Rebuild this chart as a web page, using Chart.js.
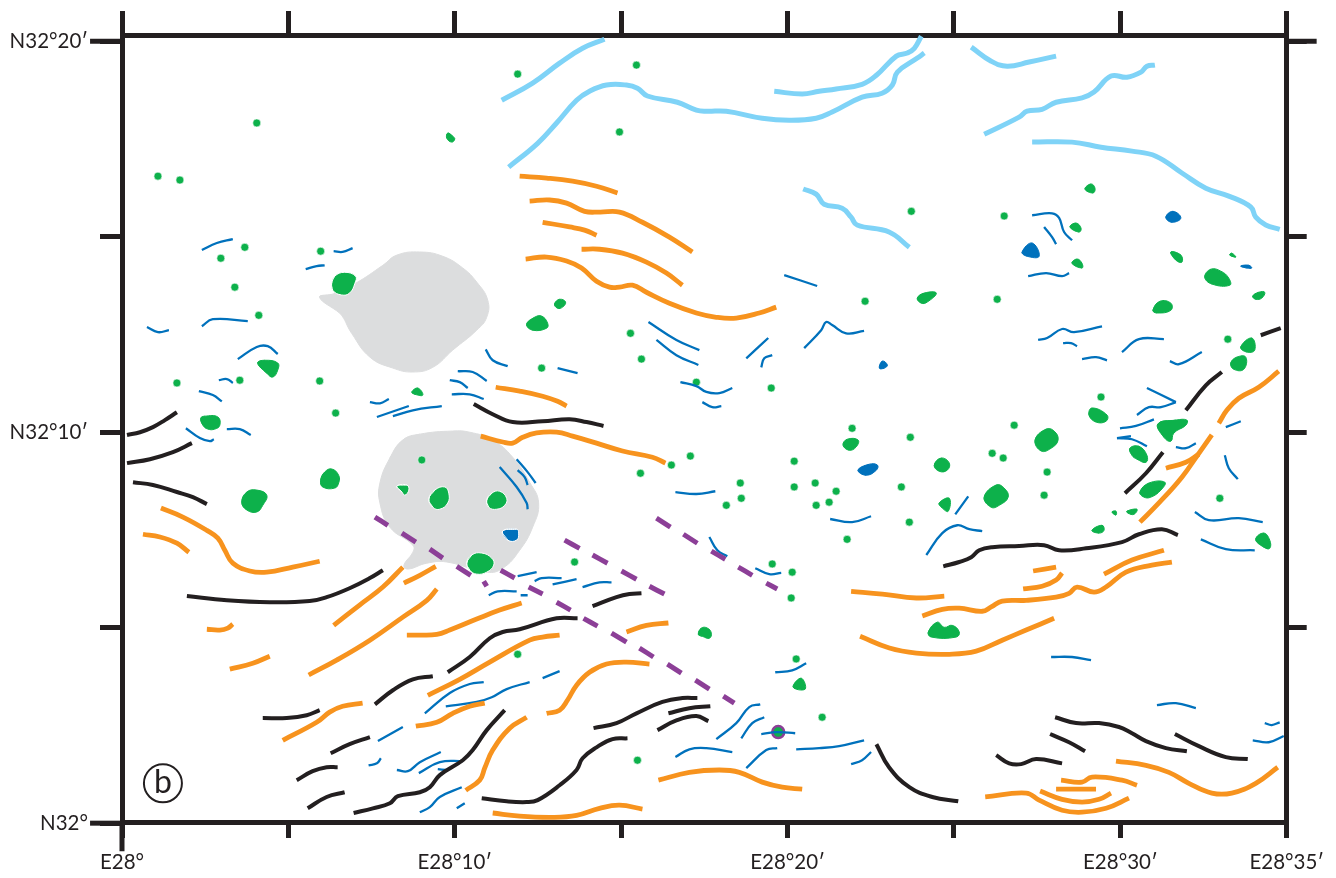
<!DOCTYPE html>
<html>
<head>
<meta charset="utf-8">
<title>Map b</title>
<script src="https://cdn.jsdelivr.net/npm/chart.js@4/dist/chart.umd.min.js"></script>
<style>
  body { margin: 0; background: #fff; }
  canvas { display: block; }
</style>
</head>
<body>
<canvas id="mapChart" width="1336" height="878"></canvas>
<script>
// All positions are arc minutes east of E28° (x) and north of N32° (y)

// Axis ticks
const xTickValues = [0, 5, 10, 15, 20, 25, 30, 35];
const yTickValues = [0, 5, 10, 15, 20];
const yRightTickValues = [5, 10, 15, 20];
const xTickLabels = {0: 'E28°', 10: 'E28°10′', 20: 'E28°20′', 30: 'E28°30′', 35: 'E28°35′'};
const yTickLabels = {0: 'N32°', 10: 'N32°10′', 20: 'N32°20′'};

const lightBlueLines = [
  [[11.41,18.49],[12.34,18.93],[13.15,19.44],[13.84,19.82],[14.50,20.05]],
  [[11.62,16.78],[12.49,17.39],[13.06,17.91],[13.66,18.49],[14.05,18.72],[14.56,18.88],[15.16,18.88],[15.49,18.80],[15.79,18.60],[16.69,18.44],[17.26,18.24],[17.56,18.21],[18.16,18.21],[19.24,18.03],[20.05,17.98],[20.86,18.03],[21.34,18.19],[22.24,18.57],[22.84,18.67],[23.15,18.88],[23.30,19.21],[23.90,19.57],[24.11,19.70]],
  [[19.60,18.72],[20.44,18.65],[20.95,18.72],[21.46,18.78],[22.24,18.90],[22.67,19.13],[23.27,19.62],[23.60,19.70],[23.81,19.82],[24.02,20.13]],
  [[25.52,19.85],[26.12,19.49],[26.60,19.36],[27.26,19.47],[28.07,19.62]],
  [[25.91,17.62],[26.96,18.06],[27.20,18.21],[27.65,18.26],[28.07,18.44],[28.85,18.55],[29.21,18.70],[29.72,19.11],[30.20,19.08],[30.62,19.21],[30.80,19.36],[31.04,19.39]],
  [[27.35,17.42],[28.55,17.42],[29.42,17.29],[30.35,17.19],[31.07,17.06],[31.85,16.63],[32.57,16.24],[33.26,16.04],[33.92,15.76],[34.07,15.50],[34.37,15.30],[34.79,15.19]],
  [[20.47,16.22],[20.86,16.09],[21.10,15.83],[21.64,15.73],[21.91,15.50],[22.09,15.30],[23.05,15.12],[23.66,14.73]]
];

const orangeLines = [
  [[11.95,16.55],[12.76,16.50],[13.54,16.42],[14.26,16.29],[14.89,16.12]],
  [[12.25,15.91],[12.85,15.94],[13.36,15.86],[13.90,15.65],[14.35,15.63],[14.95,15.63],[15.64,15.37],[16.45,14.99],[17.14,14.61]],
  [[12.64,15.37],[13.45,15.25],[13.90,15.17],[14.26,15.04]],
  [[13.81,14.68],[14.35,14.68],[15.04,14.58],[15.76,14.35],[16.36,14.07],[16.84,13.76]],
  [[12.13,14.43],[12.76,14.48],[13.36,14.38],[13.81,14.20],[14.26,13.86],[14.65,13.71],[14.95,13.71],[15.34,13.76],[15.76,13.58],[16.45,13.30],[17.26,13.05],[17.86,12.94],[18.46,12.92],[19.15,13.05],[19.66,13.20]],
  [[11.23,11.15],[11.95,11.05],[12.64,10.92],[13.09,10.79],[13.36,10.67]],
  [[10.78,9.90],[11.44,9.75],[11.74,9.72],[12.04,9.87],[12.46,9.98],[13.06,10.00],[13.54,9.90],[14.26,9.72],[15.04,9.52],[15.94,9.36],[16.33,9.21]],
  [[1.17,8.06],[1.83,7.83],[2.55,7.49],[2.88,7.29],[3.09,6.98],[3.33,6.65],[3.84,6.45],[4.35,6.42],[5.13,6.55],[5.94,6.70]],
  [[0.63,7.39],[1.14,7.32],[1.65,7.16],[2.01,6.93]],
  [[6.36,5.06],[7.14,5.58],[7.84,6.04],[8.44,6.55]],
  [[8.47,6.14],[8.95,6.34],[9.43,6.57]],
  [[5.61,3.79],[6.45,4.17],[7.45,4.68],[8.44,5.27],[9.16,5.70],[9.46,5.99]],
  [[2.55,4.96],[2.94,4.94],[3.18,4.99],[3.33,5.09]],
  [[3.24,3.94],[3.93,4.09],[4.44,4.27]],
  [[4.83,2.12],[5.85,2.58],[6.24,2.84],[6.63,2.99],[7.23,3.07]],
  [[8.56,4.81],[8.95,4.81],[9.46,4.83],[9.85,4.94],[10.66,5.22],[11.35,5.45],[12.01,5.63]],
  [[9.19,3.27],[10.15,3.68],[11.05,4.12],[12.25,4.68],[12.64,4.76],[13.15,4.81]],
  [[8.83,2.48],[9.46,2.58],[9.94,2.81],[10.45,2.99],[10.90,3.07]],
  [[10.33,0.84],[10.75,1.10],[10.90,1.41],[11.14,1.87],[11.65,2.43],[12.16,2.71]],
  [[12.76,2.81],[13.15,2.89],[13.39,3.15],[13.66,3.53],[14.05,3.86],[14.56,4.07],[15.16,4.12],[15.85,4.07]],
  [[15.16,4.89],[15.76,5.06],[16.42,5.12]],
  [[11.14,0.26],[11.95,0.18],[12.94,0.15],[13.66,0.20],[14.35,0.38],[14.95,0.46],[15.64,0.36]],
  [[16.12,1.10],[17.05,1.30],[17.95,1.36],[18.55,1.30],[19.24,1.05],[19.84,0.92],[20.44,0.87]],
  [[21.91,5.93],[22.85,5.86],[23.87,5.76],[24.71,5.81]],
  [[24.05,5.30],[24.65,5.47],[25.16,5.50],[25.85,5.42],[26.12,5.53],[26.45,5.68],[27.17,5.70],[28.07,5.78],[28.46,5.88],[28.70,6.04],[29.21,5.91],[29.57,6.04],[30.17,6.42],[30.95,6.60],[31.55,6.68]],
  [[29.51,6.37],[30.35,6.73],[31.31,6.98]],
  [[27.38,6.45],[28.07,6.55]],
  [[27.08,5.99],[27.65,6.06],[28.07,6.22],[28.25,6.40]],
  [[22.18,4.78],[23.06,4.48],[23.87,4.35],[24.86,4.32],[25.67,4.40],[26.45,4.68],[27.17,4.94],[28.01,5.24]],
  [[32.96,10.23],[33.20,10.56],[33.56,10.87],[34.16,11.15],[34.76,11.56]],
  [[30.59,7.70],[31.16,8.19],[31.85,8.85],[32.36,9.46],[32.75,9.93]],
  [[31.37,9.08],[31.97,9.23],[32.36,9.44]],
  [[25.94,0.67],[27.17,0.77],[27.56,0.59],[28.25,0.33],[28.85,0.28],[29.57,0.38],[30.26,0.64]],
  [[27.59,0.82],[28.25,0.61],[28.85,0.54],[29.36,0.61],[29.72,0.77]],
  [[28.07,0.87],[29.27,0.87]],
  [[28.22,1.10],[28.85,1.05],[29.15,1.18],[30.05,1.10],[30.50,0.97]],
  [[29.87,1.59],[30.77,1.48],[31.46,1.30],[32.06,1.02],[32.75,0.77],[33.35,0.77],[34.07,1.02],[34.73,1.43]]
];

const blackLines = [
  [[0.15,9.93],[0.54,10.00],[0.93,10.13],[1.29,10.31],[1.65,10.51]],
  [[0.15,9.21],[0.84,9.31],[1.53,9.49],[2.10,9.72]],
  [[0.33,8.72],[0.93,8.65],[1.65,8.47],[2.13,8.34],[2.55,8.16]],
  [[10.57,10.72],[11.14,10.46],[11.74,10.26],[12.64,10.28],[13.45,10.33],[13.96,10.26],[14.47,10.16]],
  [[1.95,5.81],[3.15,5.70],[4.44,5.65],[5.64,5.68],[6.15,5.78],[6.84,6.01],[7.45,6.27],[7.84,6.47]],
  [[4.23,2.69],[4.95,2.69],[5.55,2.76],[5.94,2.89]],
  [[7.60,3.04],[8.14,3.40],[8.74,3.68],[9.34,3.76]],
  [[9.79,3.86],[10.45,4.25],[11.05,4.73],[11.44,4.89],[11.95,4.96],[13.06,5.24],[13.69,5.24]],
  [[14.14,5.55],[14.86,5.78],[15.25,5.86],[15.61,5.88]],
  [[6.27,1.79],[6.84,2.02],[7.45,2.20]],
  [[5.25,1.10],[5.73,1.33],[6.15,1.43],[6.48,1.43]],
  [[5.58,0.38],[6.15,0.67],[6.69,0.79]],
  [[6.96,0.26],[7.54,0.38],[8.05,0.51],[8.29,0.69],[8.95,0.79],[9.25,0.92],[9.55,1.23],[10.24,1.61],[10.54,1.87],[10.96,2.38],[11.50,2.89]],
  [[10.81,0.64],[11.56,0.56],[12.16,0.54],[12.49,0.59],[13.15,0.97],[13.66,1.36],[13.84,1.66],[14.26,1.94],[14.74,2.15],[15.19,2.17]],
  [[14.17,2.43],[14.86,2.56],[15.46,2.81],[16.24,3.10],[16.84,3.20],[17.29,3.20]],
  [[16.42,2.81],[17.05,2.94],[17.68,2.99]],
  [[16.09,2.38],[16.66,2.63],[17.26,2.74],[17.62,2.61]],
  [[22.67,2.02],[23.05,1.43],[23.66,0.92],[24.35,0.67],[25.13,0.56]],
  [[26.27,1.74],[26.66,1.53],[27.02,1.51],[27.47,1.64],[28.25,1.53]],
  [[27.89,2.28],[28.46,2.07],[28.94,1.84]],
  [[28.04,2.71],[28.67,2.56],[29.36,2.56],[29.96,2.46],[30.35,2.30],[30.77,2.10],[31.37,1.92],[32.00,1.84]],
  [[31.64,2.28],[32.36,1.97],[33.17,1.69],[33.83,1.64]],
  [[24.68,6.57],[25.16,6.68],[25.52,6.80],[25.76,6.98],[26.15,7.06],[26.96,7.09],[27.71,7.11],[28.16,6.98],[28.97,7.03],[30.05,7.19],[30.56,7.39],[31.25,7.52],[31.73,7.37]],
  [[30.14,8.44],[30.77,8.95],[31.28,9.49]],
  [[31.97,10.56],[32.57,11.20],[33.05,11.54]],
  [[34.22,12.48],[34.82,12.66]]
];

const blueLines = [
  [[2.40,14.66],[2.85,14.84],[3.33,14.94]],
  [[6.36,14.63],[6.63,14.61],[6.93,14.71]],
  [[5.52,14.17],[5.85,14.25],[6.09,14.27]],
  [[0.75,12.69],[1.08,12.56],[1.41,12.61]],
  [[2.40,12.71],[2.73,12.89],[3.78,12.84]],
  [[3.48,11.87],[4.05,12.18],[4.38,12.20],[4.68,12.00]],
  [[2.91,11.33],[3.15,11.36],[3.33,11.26]],
  [[2.31,11.05],[2.73,10.95],[3.00,10.79]],
  [[1.92,10.10],[2.34,9.85],[2.64,9.77],[2.76,9.82]],
  [[3.15,10.08],[3.54,10.08],[3.87,9.93]],
  [[7.45,10.77],[7.75,10.74],[8.02,10.85]],
  [[7.66,10.39],[8.62,10.67]],
  [[8.14,10.41],[8.74,10.56],[9.61,10.67]],
  [[10.93,12.12],[11.14,11.84],[11.59,11.69]],
  [[10.09,11.56],[10.54,11.54],[10.96,11.31]],
  [[9.85,11.33],[10.15,11.28],[10.39,11.13]],
  [[9.91,10.97],[10.45,10.97],[10.87,10.85]],
  [[13.09,11.64],[13.69,11.51]],
  [[11.86,9.31],[12.19,8.98],[12.43,8.70]],
  [[11.89,9.03],[12.10,8.85],[12.19,8.65]],
  [[11.35,9.11],[11.86,8.60],[12.16,8.19],[12.19,8.03]],
  [[11.89,6.32],[12.46,6.42]],
  [[12.40,6.19],[12.61,6.27],[13.21,6.27]],
  [[12.94,6.11],[13.66,6.24]],
  [[13.84,6.04],[14.35,6.16],[14.71,6.16]],
  [[11.02,5.83],[11.29,5.93],[11.86,5.93]],
  [[11.98,5.83],[12.19,5.83]],
  [[15.82,12.82],[16.66,12.36],[17.35,12.10]],
  [[16.06,12.36],[16.66,11.97],[17.32,11.72]],
  [[18.76,11.89],[19.42,12.41]],
  [[19.21,11.66],[19.30,11.89],[19.54,11.97]],
  [[20.50,12.15],[21.01,12.61],[21.16,12.82],[21.34,12.74],[21.76,12.53],[22.30,12.59]],
  [[16.78,11.28],[17.26,11.18],[17.56,11.03],[17.95,11.00],[18.34,11.13]],
  [[17.44,10.77],[17.74,10.64],[18.01,10.67]],
  [[16.63,8.47],[17.26,8.42],[17.83,8.49]],
  [[21.28,7.78],[21.94,7.70],[22.51,7.85]],
  [[17.65,7.32],[17.89,6.98],[18.19,6.83]],
  [[19.03,6.52],[19.45,6.37],[19.81,6.40]],
  [[19.90,14.02],[20.89,13.74]],
  [[27.35,15.55],[27.95,15.60],[28.16,15.48],[28.31,15.12],[28.55,14.91]],
  [[27.71,15.25],[27.95,14.99],[28.07,14.81]],
  [[27.23,13.99],[27.77,14.07],[28.25,13.99],[28.46,14.07]],
  [[27.53,12.36],[27.80,12.41],[28.25,12.64],[28.61,12.56],[29.45,12.71]],
  [[28.28,12.28],[28.52,12.28],[28.70,12.20]],
  [[28.85,11.87],[29.27,11.92],[29.60,11.84]],
  [[30.05,12.05],[30.56,12.38],[31.31,12.38]],
  [[31.49,11.82],[31.76,11.74],[32.45,12.05]],
  [[30.80,11.13],[31.67,10.77]],
  [[31.67,10.77],[31.22,10.64],[30.86,10.64],[30.50,10.44]],
  [[29.99,10.10],[30.47,10.16],[31.01,10.33]],
  [[30.32,9.90],[29.90,9.85]],
  [[29.90,9.85],[30.35,9.82],[30.80,9.64]],
  [[31.67,9.62],[31.97,9.59],[32.27,9.72]],
  [[33.17,10.13],[33.62,10.28]],
  [[33.14,9.41],[33.26,9.08],[33.53,8.80]],
  [[25.04,7.90],[25.43,8.36]],
  [[24.17,6.86],[24.65,7.42],[25.10,7.62],[25.46,7.52],[25.85,7.47]],
  [[32.24,7.96],[32.66,7.75],[33.56,7.80],[34.28,7.70]],
  [[32.42,7.26],[33.17,7.01],[34.04,6.98]],
  [[7.69,2.10],[8.44,2.46]],
  [[7.41,1.48],[7.66,1.53],[7.78,1.66]],
  [[8.26,1.36],[8.59,1.33],[8.95,1.56],[9.58,1.82]],
  [[8.92,1.28],[9.55,1.56],[10.24,1.59]],
  [[9.49,1.38],[9.73,1.36]],
  [[8.95,0.28],[9.25,0.41],[9.55,0.67],[10.21,0.92]],
  [[10.06,0.38],[10.30,0.51]],
  [[9.10,2.81],[9.85,3.33],[10.45,3.56],[10.87,3.61]],
  [[9.73,2.99],[10.66,3.10],[11.11,3.22],[11.56,3.43],[12.25,3.61]],
  [[12.64,3.71],[13.15,3.89]],
  [[16.63,1.69],[17.05,1.89],[17.56,1.92],[18.34,1.82]],
  [[17.86,2.15],[18.46,2.56],[18.85,2.97],[19.18,3.04]],
  [[18.61,2.17],[18.94,2.56],[19.30,2.71]],
  [[19.21,2.28],[19.69,2.33],[20.23,2.30]],
  [[18.76,1.41],[19.36,1.87],[19.69,1.92]],
  [[20.26,1.89],[20.95,1.92],[21.55,1.97],[22.30,2.12]],
  [[21.91,1.51],[22.24,1.61],[22.51,1.82]],
  [[19.63,3.86],[20.14,3.91],[20.56,4.09]],
  [[27.92,4.25],[28.55,4.25],[29.12,4.17]],
  [[31.10,3.02],[31.67,3.07],[32.27,2.94]],
  [[34.34,2.56],[34.55,2.51],[34.79,2.58]],
  [[33.98,2.12],[34.46,2.07],[34.91,2.23]]
];

const purpleDashes = [
  [[7.60,7.83],[7.99,7.62]], [[8.41,7.42],[8.83,7.19]], [[9.25,7.01],[9.64,6.78]], [[10.06,6.57],[10.48,6.34]], [[10.87,6.19],[10.96,6.06]],
  [[11.38,6.47],[11.80,6.27]], [[12.22,6.04],[12.64,5.86]], [[13.06,5.65],[13.48,5.45]], [[13.87,5.24],[14.29,5.04]], [[14.71,4.86],[15.16,4.63]],
  [[15.55,4.48],[15.97,4.25]], [[16.39,4.07],[16.81,3.84]], [[17.23,3.66],[17.65,3.43]], [[18.07,3.25],[18.40,3.07]],
  [[13.30,7.24],[13.75,7.03]], [[14.14,6.86],[14.59,6.65]], [[15.01,6.45],[15.46,6.24]], [[15.85,6.06],[16.30,5.86]],
  [[16.06,7.80],[16.48,7.57]], [[16.87,7.39],[17.29,7.16]], [[17.71,6.96],[18.13,6.75]], [[18.52,6.55],[18.94,6.34]], [[19.36,6.14],[19.69,5.99]]
];

const greyAreas = [
  [[5.94,13.45],[6.33,13.53],[7.02,13.81],[7.84,14.27],[8.26,14.53],[8.95,14.61],[9.64,14.50],[10.24,14.20],[10.66,13.84],[10.99,13.38],[10.96,12.94],[10.66,12.61],[9.94,12.10],[9.34,11.66],[8.74,11.54],[8.14,11.64],[7.45,11.92],[6.90,12.53],[6.54,13.05]],
  [[8.44,9.80],[8.95,9.95],[9.94,10.03],[10.45,10.00],[11.14,9.80],[11.74,9.36],[12.25,8.72],[12.52,8.19],[12.34,7.57],[11.95,6.98],[11.44,6.52],[10.96,6.42],[9.76,6.68],[9.16,6.65],[8.59,6.50],[8.47,6.60],[8.74,6.93],[8.74,7.11],[8.05,7.57],[7.75,8.19],[7.75,8.70],[8.05,9.34]]
];

// Green patches sitting on the grey areas get a white rim
const greenIslandBlobs = [
  [[6.30,13.81],[6.39,13.99],[6.69,14.09],[7.02,13.99],[7.00,13.81],[6.84,13.56],[6.60,13.51],[6.33,13.63]],
  [[8.26,8.62],[8.56,8.65],[8.62,8.52],[8.50,8.39],[8.41,8.47]],
  [[9.22,8.29],[9.40,8.52],[9.70,8.60],[9.82,8.44],[9.79,8.19],[9.55,8.03],[9.34,8.08]],
  [[10.96,8.26],[11.11,8.44],[11.35,8.49],[11.56,8.31],[11.50,8.13],[11.26,8.03],[11.02,8.08]],
  [[10.36,6.65],[10.51,6.86],[10.81,6.91],[11.11,6.78],[11.17,6.60],[10.96,6.42],[10.66,6.37],[10.45,6.47]]
];

const greenBlobs = [
  [[9.79,17.65],[9.76,17.52],[9.91,17.42],[10.00,17.50],[9.94,17.57]],
  [[12.16,12.76],[12.40,12.94],[12.61,12.97],[12.79,12.79],[12.76,12.66],[12.34,12.61]],
  [[13.00,13.28],[13.15,13.40],[13.33,13.33],[13.24,13.20],[13.09,13.17]],
  [[4.08,11.77],[4.29,11.84],[4.68,11.77],[4.68,11.59],[4.53,11.41],[4.35,11.51]],
  [[2.37,10.36],[2.49,10.41],[2.88,10.39],[2.94,10.18],[2.79,10.08],[2.58,10.08],[2.43,10.18]],
  [[3.60,8.21],[3.75,8.47],[4.05,8.52],[4.35,8.39],[4.23,8.13],[4.05,7.96],[3.75,8.01]],
  [[5.97,8.77],[6.09,8.98],[6.30,9.06],[6.51,8.90],[6.51,8.70],[6.39,8.57],[6.03,8.60]],
  [[8.71,11.03],[8.89,11.13],[9.04,10.95],[8.80,10.97]],
  [[17.32,4.83],[17.41,4.99],[17.59,4.99],[17.71,4.86],[17.65,4.73],[17.44,4.78]],
  [[20.17,3.48],[20.41,3.71],[20.53,3.43]],
  [[23.90,13.43],[24.11,13.56],[24.47,13.56],[24.20,13.33],[24.02,13.30]],
  [[21.67,9.67],[21.79,9.82],[22.12,9.80],[22.06,9.62],[21.85,9.54]],
  [[24.41,9.16],[24.62,9.34],[24.86,9.21],[24.80,9.03],[24.56,9.00]],
  [[24.56,8.19],[24.86,8.31],[24.83,7.98],[24.65,8.06]],
  [[25.91,8.34],[26.27,8.65],[26.51,8.57],[26.63,8.34],[26.36,8.13],[26.12,8.08]],
  [[27.44,9.80],[27.77,10.08],[28.01,10.03],[28.13,9.80],[27.92,9.59],[27.62,9.52]],
  [[29.06,10.44],[29.15,10.62],[29.60,10.44],[29.57,10.28],[29.27,10.26]],
  [[24.23,4.89],[24.50,5.14],[24.71,5.01],[24.95,5.06],[25.16,4.89],[25.07,4.76],[24.32,4.76]],
  [[28.94,16.22],[29.12,16.35],[29.24,16.24],[29.18,16.12]],
  [[28.49,15.25],[28.67,15.35],[28.82,15.22],[28.76,15.12]],
  [[28.55,14.32],[28.70,14.43],[28.85,14.32],[28.85,14.20]],
  [[31.52,14.61],[31.82,14.53],[31.85,14.35],[31.67,14.40]],
  [[33.29,14.53],[33.35,14.58],[33.47,14.48]],
  [[32.54,13.97],[32.72,14.17],[33.02,14.12],[33.26,13.94],[33.29,13.76],[32.75,13.79]],
  [[33.98,13.48],[34.16,13.58],[34.34,13.58],[34.25,13.43],[34.07,13.40]],
  [[30.98,13.12],[31.19,13.35],[31.52,13.30],[31.52,13.12],[31.10,13.05]],
  [[33.62,12.18],[33.95,12.41],[34.04,12.10],[33.80,12.05]],
  [[33.32,11.77],[33.50,11.92],[33.77,11.92],[33.71,11.61],[33.41,11.61]],
  [[31.13,10.21],[31.67,10.31],[32.00,10.31],[31.97,10.18],[31.61,9.98],[31.52,9.77],[31.31,9.87]],
  [[30.29,9.59],[30.56,9.64],[30.80,9.41],[30.77,9.23],[30.50,9.31],[30.35,9.41]],
  [[30.59,8.47],[30.86,8.70],[31.34,8.72],[31.22,8.52],[30.92,8.34],[30.71,8.34]],
  [[30.20,7.98],[30.50,8.03],[30.41,7.90],[30.23,7.93]],
  [[29.75,7.96],[29.87,7.98],[29.87,7.88]],
  [[29.15,7.49],[29.45,7.62],[29.51,7.49],[29.36,7.42]],
  [[34.07,7.26],[34.31,7.42],[34.49,7.24],[34.49,7.03],[34.31,7.06]]
];

const blueIslandBlobs = [
  [[11.44,7.47],[11.86,7.52],[11.92,7.42],[11.86,7.24],[11.59,7.24]]
];

const blueBlobs = [
  [[22.12,9.03],[22.45,9.18],[22.70,9.16],[22.67,9.03],[22.36,8.90]],
  [[22.76,11.64],[22.85,11.82],[23.00,11.72],[22.91,11.64]],
  [[31.37,15.50],[31.58,15.65],[31.82,15.48],[31.55,15.37]],
  [[27.05,14.61],[27.35,14.84],[27.56,14.50],[27.20,14.50]],
  [[33.62,14.25],[33.86,14.27],[33.95,14.20],[33.80,14.20]]
];

const greenDots = [
  [4.05,17.91],[1.08,16.55],[1.74,16.45],[3.69,14.73],[2.97,14.45],[5.97,14.63],[3.39,13.71],
  [11.89,19.16],[15.46,19.39],[14.95,17.68],[23.72,15.65],[22.33,13.35],[26.51,15.53],[26.30,13.40],
  [4.11,12.99],[1.65,11.26],[3.54,11.33],[5.94,11.31],[6.42,10.49],
  [12.61,11.64],[15.28,12.53],[15.61,11.87],[9.01,9.29],[13.60,6.68],[15.58,8.95],[16.51,9.16],
  [17.26,11.28],[19.51,11.13],[21.94,10.10],[23.69,9.87],[17.08,9.39],[20.20,9.26],[18.58,8.70],[18.61,8.31],[18.16,8.13],
  [20.20,8.60],[20.83,8.70],[21.46,8.49],[21.25,8.21],[20.86,8.13],[23.42,8.60],[23.66,7.70],[21.79,7.26],[19.54,6.63],[20.14,6.42],[20.11,5.76],
  [33.23,12.38],[29.42,10.90],[26.81,10.18],[26.15,9.46],[26.48,9.34],[27.80,8.98],[27.71,8.39],[32.99,8.31],
  [11.89,4.32],[15.49,1.61],[20.26,4.20],[21.04,2.71]
];

const sampleSite = [[19.72, 2.33]];
const panelBadge = [[1.23, 1.02]];
const panelLetter = 'b';

// Axis stubs that reach further out than the others
const longTicks = [
  [[0, 20], [-0.96, 20]],
  [[0, 0], [-0.96, 0]],
  [[35, 20], [35.9, 20]],
  [[0, 0.03], [0, -0.72]]
];

const INK = '#231f20';
const GREEN = '#0db14b';
const BLUE = '#0071bc';
const PURPLE = '#8c3f97';
const datasets = [];

function toPoints(path){
  return path.map(p => ({x: p[0], y: p[1]}));
}

function addLines(paths, color, width){
  paths.forEach(path => {
    datasets.push({
      data: toPoints(path),
      showLine: true,
      pointRadius: 0,
      borderColor: color,
      borderWidth: width,
      borderCapStyle: 'butt',
      borderJoinStyle: 'round',
      tension: 0.42
    });
  });
}

// Walk past the start on both ends so the spline has no corner where the outline closes
function addAreas(paths, color, edge){
  paths.forEach(path => {
    const closed = [path[path.length - 1]].concat(path, [path[0], path[1]]);
    datasets.push({
      data: toPoints(closed),
      showLine: true,
      pointRadius: 0,
      borderColor: edge,
      borderWidth: 1,
      backgroundColor: color,
      fill: 'shape',
      tension: 0.45
    });
  });
}

function addPoints(points, color, edge, radius, edgeWidth){
  datasets.push({
    data: toPoints(points),
    showLine: false,
    pointRadius: radius,
    pointBackgroundColor: color,
    pointBorderColor: edge,
    pointBorderWidth: edgeWidth
  });
}

// Back to front
addAreas(greyAreas, '#dcddde', '#dcddde');
addAreas(greenBlobs, GREEN, GREEN);
addAreas(greenIslandBlobs, GREEN, '#ffffff');
addAreas(blueBlobs, BLUE, BLUE);
addAreas(blueIslandBlobs, BLUE, '#ffffff');
addPoints(greenDots, GREEN, '#ffffff', 4, 0.6);
addPoints(sampleSite, GREEN, PURPLE, 6, 2.5);
addLines(lightBlueLines, '#7fd3f7', 5);
addLines(blueLines, BLUE, 2.3);
addLines(orangeLines, '#f7931e', 4.8);
addLines(blackLines, INK, 4);
addLines(purpleDashes, PURPLE, 5);
addPoints(panelBadge, '#ffffff', INK, 19, 2);
longTicks.forEach(stub => {
  datasets.push({
    data: toPoints(stub),
    showLine: true,
    pointRadius: 0,
    borderColor: INK,
    borderWidth: 5,
    clip: false
  });
});

// first dataset is drawn on top, so count down
datasets.forEach((d, i) => { d.order = datasets.length - i; });

const labelFont = {family: 'Lato', size: 20.5};

function frameGrid(length){
  return {
    drawOnChartArea: false,
    color: INK,
    lineWidth: 5,
    tickLength: length
  };
}

const frameBorder = {color: INK, width: 5};

function fixSize(prop, value){
  return axis => { axis[prop] = value; };
}

const letterPlugin = {
  id: 'panelLetter',
  afterDatasetsDraw(chart){
    const ctx = chart.ctx;
    const px = chart.scales.x.getPixelForValue(panelBadge[0][0]);
    const py = chart.scales.y.getPixelForValue(panelBadge[0][1]);
    ctx.save();
    ctx.font = '32px Lato';
    ctx.fillStyle = INK;
    ctx.textAlign = 'center';
    ctx.textBaseline = 'middle';
    ctx.fillText(panelLetter, px, py - 1);
    ctx.restore();
  }
};

new Chart(document.getElementById('mapChart').getContext('2d'), {
  type: 'scatter',
  data: {datasets},
  plugins: [letterPlugin],
  options: {
    responsive: false,
    animation: false,
    events: [],
    layout: {padding: 0},
    plugins: {legend: {display: false}, tooltip: {enabled: false}},
    scales: {
      x: {
        type: 'linear', position: 'bottom', min: 0, max: 35,
        afterBuildTicks: axis => { axis.ticks = xTickValues.map(value => ({value})); },
        afterFit: fixSize('height', 56),
        grid: frameGrid(16),
        border: frameBorder,
        ticks: {
          autoSkip: false, maxRotation: 0, padding: 12, color: INK, font: labelFont,
          callback: value => xTickLabels[value] || ''
        }
      },
      xTop: {
        type: 'linear', position: 'top', min: 0, max: 35,
        afterBuildTicks: axis => { axis.ticks = xTickValues.map(value => ({value})); },
        afterFit: fixSize('height', 35),
        grid: frameGrid(24),
        border: frameBorder,
        ticks: {display: false}
      },
      y: {
        type: 'linear', position: 'left', min: 0.03, max: 20.16,
        afterBuildTicks: axis => { axis.ticks = yTickValues.map(value => ({value})); },
        afterFit: fixSize('width', 122),
        grid: frameGrid(22),
        border: frameBorder,
        ticks: {
          autoSkip: false, padding: 12, color: INK, font: labelFont,
          callback: value => yTickLabels[value] || ''
        }
      },
      yRight: {
        type: 'linear', position: 'right', min: 0.03, max: 20.16,
        afterBuildTicks: axis => { axis.ticks = yRightTickValues.map(value => ({value})); },
        afterFit: fixSize('width', 46),
        grid: frameGrid(20),
        border: frameBorder,
        ticks: {display: false}
      }
    }
  }
});
</script>
</body>
</html>
